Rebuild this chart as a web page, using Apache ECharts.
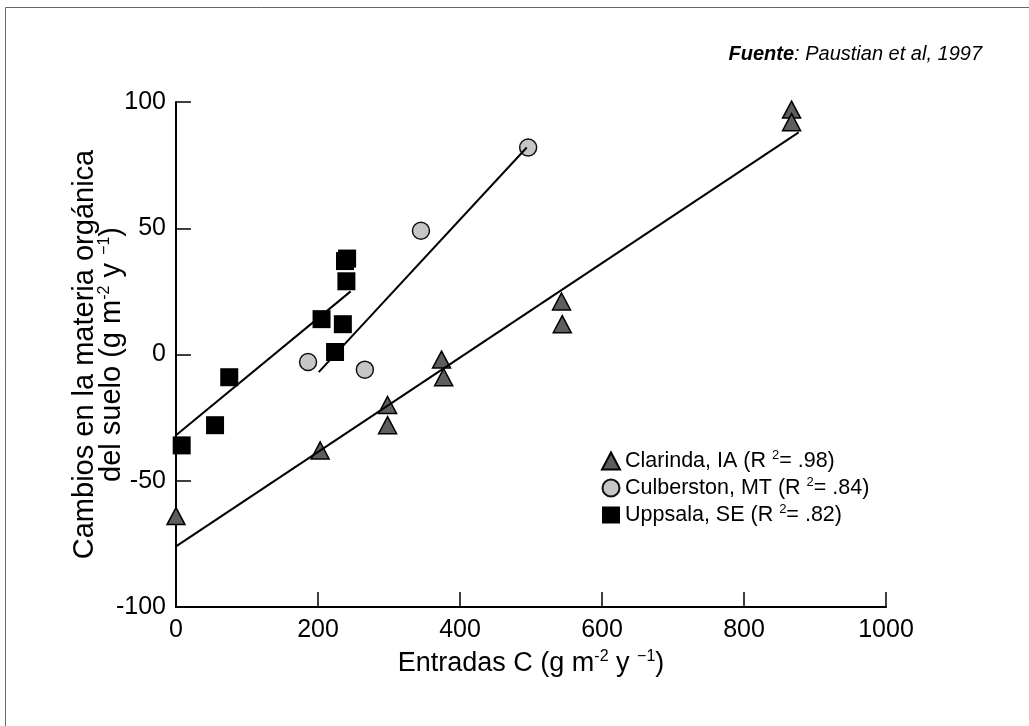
<!DOCTYPE html>
<html>
<head>
<meta charset="utf-8">
<script src="https://cdn.jsdelivr.net/npm/echarts@6/dist/echarts.min.js"></script>
<style>
  html, body { margin: 0; padding: 0; background: #fff; }
  #chart { width: 1029px; height: 726px; }
</style>
</head>
<body>
<div id="chart"></div>
<script>
// puntos (x: entradas C, y: cambio en MO)
const clarinda = [[0, -64], [203, -38], [298, -20], [298, -28], [374, -2], [377, -9], [543, 21], [544, 12], [867, 97], [867, 92]]
const culbertson = [[186, -3], [266, -6], [345, 49], [496, 82]]
const uppsala = [[8, -36], [55, -28], [75, -9], [205, 14], [235, 12], [224, 1], [238, 37], [241, 38], [240, 29]]

// rectas de regresión (extremos)
const clarindaFit = [[0, -76], [877, 88]]
const culbertsonFit = [[201, -7], [494, 82]]
const uppsalaFit = [[0, -32], [246, 25]]

const siteNames = ['Clarinda, IA', 'Culberston, MT', 'Uppsala, SE']
const r2Labels = ['.98', '.84', '.82']

const font = 'Liberation Sans, Arial, sans-serif'

const chart = echarts.init(document.getElementById('chart'))

const fitLine = (data) => {
  return {
    type: 'line',
    data: data,
    showSymbol: false,
    symbol: 'none',
    silent: true,
    z: 3,
    lineStyle: { color: '#000', width: 2 }
  }
}

chart.setOption({
  backgroundColor: '#fff',
  animation: false,
  textStyle: { fontFamily: font },
  grid: { left: 176, right: 143, top: 102, bottom: 119 },
  graphic: [
    {
      type: 'rect',
      shape: { x: 5.5, y: 7.5, width: 1100, height: 800 },
      style: { fill: 'none', stroke: '#666', lineWidth: 1 }
    },
    {
      type: 'text',
      right: 47,
      top: 44,
      style: {
        text: '{b|Fuente}{i|: Paustian et al, 1997}',
        rich: {
          b: { fontSize: 20, fontStyle: 'italic', fontWeight: 'bold', fontFamily: font, fill: '#000' },
          i: { fontSize: 20, fontStyle: 'italic', fontFamily: font, fill: '#000' }
        }
      }
    }
  ],
  legend: {
    data: siteNames,
    orient: 'vertical',
    left: 596,
    top: 444,
    itemWidth: 18,
    itemHeight: 17,
    itemGap: 4,
    selectedMode: false,
    formatter: (name) => {
      const r2 = r2Labels[siteNames.indexOf(name)]
      return `{t|${name} (R }{s|2}{t|= ${r2})}`
    },
    textStyle: {
      rich: {
        t: { fontSize: 21.5, color: '#000', fontFamily: font },
        s: { fontSize: 13, color: '#000', fontFamily: font, padding: [0, 0, 11, 0] }
      }
    }
  },
  xAxis: {
    type: 'value',
    min: 0,
    max: 1000,
    interval: 200,
    name: '{t|Entradas C (g m}{s|-2}{t| y }{s|\u22121}{t|)}',
    nameLocation: 'middle',
    nameGap: 42,
    nameTextStyle: {
      rich: {
        t: { fontSize: 27, color: '#000', fontFamily: font },
        s: { fontSize: 16, color: '#000', fontFamily: font, padding: [0, 0, 14, 0] }
      }
    },
    splitLine: { show: false },
    axisLine: { onZero: false, lineStyle: { color: '#000', width: 2 } },
    axisTick: { inside: true, length: 15, lineStyle: { color: '#000', width: 1.5 } },
    axisLabel: { color: '#000', fontSize: 25, margin: 11, fontFamily: font, formatter: (v) => String(v) }
  },
  yAxis: {
    type: 'value',
    min: -100,
    max: 100,
    interval: 50,
    name: '{t|Cambios en la materia orgánica}\n{t|del suelo (g m}{s|-2}{t| y }{s|\u22121}{t|)}',
    nameLocation: 'middle',
    nameGap: 49,
    nameMoveOverlap: false,
    nameTextStyle: {
      rich: {
        t: { fontSize: 29, color: '#000', fontFamily: font, lineHeight: 24 },
        s: { fontSize: 16, color: '#000', fontFamily: font, padding: [0, 0, 14, 0] }
      }
    },
    splitLine: { show: false },
    axisLine: { onZero: false, lineStyle: { color: '#000', width: 2 } },
    axisTick: { inside: true, length: 15, lineStyle: { color: '#000', width: 1.5 } },
    axisLabel: { color: '#000', fontSize: 25, margin: 10, fontFamily: font }
  },
  series: [
    {
      name: siteNames[0],
      type: 'scatter',
      data: clarinda,
      symbol: 'triangle',
      symbolSize: [18, 17],
      z: 2,
      itemStyle: { color: '#5e5e5e', borderColor: '#000', borderWidth: 1.5, opacity: 1 }
    },
    {
      name: siteNames[1],
      type: 'scatter',
      data: culbertson,
      symbol: 'circle',
      symbolSize: 17,
      z: 2,
      itemStyle: { color: '#c6c6c6', borderColor: '#111', borderWidth: 1.5, opacity: 1 }
    },
    {
      name: siteNames[2],
      type: 'scatter',
      data: uppsala,
      symbol: 'rect',
      symbolSize: 18,
      z: 2,
      itemStyle: { color: '#000', opacity: 1 }
    },
    fitLine(clarindaFit),
    fitLine(culbertsonFit),
    fitLine(uppsalaFit)
  ]
})
</script>
</body>
</html>
